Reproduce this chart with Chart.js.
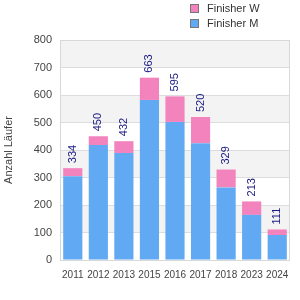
<!DOCTYPE html>
<html>
<head>
<meta charset="utf-8">
<script src="https://cdn.jsdelivr.net/npm/chart.js@4/dist/chart.umd.min.js"></script>
<style>
  body { margin: 0; background: #fff; }
  #wrap { position: relative; width: 300px; height: 300px; }
  .leg { position: absolute; left: 190px; font: 11px "Liberation Sans", Arial, sans-serif; color: #333; }
  .leg span { display: inline-block; width: 7px; height: 7px; border: 1px solid #777; margin-right: 8px; vertical-align: -1px; }
</style>
</head>
<body>
<div id="wrap">
  <canvas id="chartLaeufer" width="300" height="300"></canvas>
  <div class="leg" style="top:2px"><span style="background:#f283bc"></span>Finisher W</div>
  <div class="leg" style="top:17px"><span style="background:#62a9f3"></span>Finisher M</div>
</div>
<script>
const jahre = ["2011", "2012", "2013", "2015", "2016", "2017", "2018", "2023", "2024"];
const finisherM = [305, 418, 389, 582, 502, 425, 264, 164, 91];
const finisherW = [29, 32, 43, 81, 93, 95, 65, 49, 20];
const gesamt = [334, 450, 432, 663, 595, 520, 329, 213, 111];
const yTicks = [0, 100, 200, 300, 400, 500, 600, 700, 800];

// graue Streifen im Hintergrund + Rahmen
const streifen = {
  id: "streifen",
  beforeDraw: (chart) => {
    const { ctx, chartArea, scales } = chart;
    ctx.save();
    for (let i = 0; i < yTicks.length - 1; i++) {
      if ((yTicks.length - 2 - i) % 2 === 0) {
        const top = scales.y.getPixelForValue(yTicks[i + 1]);
        const bottom = scales.y.getPixelForValue(yTicks[i]);
        ctx.fillStyle = "#f3f3f3";
        ctx.fillRect(chartArea.left, top, chartArea.right - chartArea.left, bottom - top);
      }
    }
    ctx.restore();
  },
  afterDraw: (chart) => {
    const { ctx, chartArea } = chart;
    ctx.save();
    ctx.strokeStyle = "#d8d8d8";
    ctx.lineWidth = 1;
    ctx.strokeRect(chartArea.left + 0.5, chartArea.top + 0.5, chartArea.right - chartArea.left - 1, chartArea.bottom - chartArea.top);
    ctx.restore();
  },
};

// Summen senkrecht über den Balken
const summen = {
  id: "summen",
  afterDatasetsDraw: (chart) => {
    const { ctx, scales } = chart;
    ctx.save();
    ctx.font = "11px 'Liberation Sans', Arial, sans-serif";
    ctx.fillStyle = "#1a1a85";
    ctx.textAlign = "left";
    ctx.textBaseline = "middle";
    gesamt.forEach((wert, i) => {
      const x = scales.x.getPixelForValue(i);
      const y = scales.y.getPixelForValue(wert) - 5;
      ctx.save();
      ctx.translate(x, y);
      ctx.rotate(-Math.PI / 2);
      ctx.fillText(String(wert), 0, 0);
      ctx.restore();
    });
    ctx.restore();
  },
};

const myChart = new Chart(document.getElementById("chartLaeufer"), {
  type: "bar",
  data: {
    labels: jahre,
    datasets: [
      {
        label: "Finisher M",
        data: finisherM,
        backgroundColor: "#62a9f3",
        barPercentage: 0.75,
        categoryPercentage: 1,
      },
      {
        label: "Finisher W",
        data: finisherW,
        backgroundColor: "#f283bc",
        barPercentage: 0.75,
        categoryPercentage: 1,
      },
    ],
  },
  options: {
    responsive: false,
    animation: false,
    layout: { padding: { top: 40, right: 10, left: 0, bottom: 0 } },
    plugins: {
      legend: { display: false },
      tooltip: { enabled: false },
    },
    scales: {
      x: {
        stacked: true,
        grid: { display: false },
        border: { display: false },
        ticks: {
          color: "#444",
          font: { size: 10, family: "'Liberation Sans', Arial, sans-serif" },
          maxRotation: 0,
          autoSkip: false,
          padding: 1,
        },
        afterFit: (scale) => {
          scale.height = 40;
        },
      },
      y: {
        stacked: true,
        min: 0,
        max: 800,
        grid: { color: "#dddddd", drawTicks: false },
        border: { display: false },
        ticks: {
          stepSize: 100,
          color: "#444",
          font: { size: 11, family: "'Liberation Sans', Arial, sans-serif" },
          padding: 8,
        },
        title: {
          display: true,
          text: "Anzahl Läufer",
          color: "#444",
          font: { size: 11, family: "'Liberation Sans', Arial, sans-serif" },
          padding: 2,
        },
        afterFit: (scale) => {
          scale.width = 60;
        },
      },
    },
  },
  plugins: [streifen, summen],
});
</script>
</body>
</html>
